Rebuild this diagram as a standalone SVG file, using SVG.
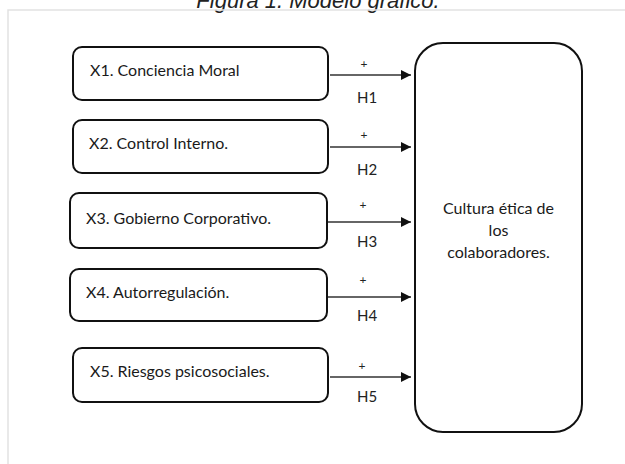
<svg xmlns="http://www.w3.org/2000/svg" width="625" height="464" viewBox="0 0 625 464">
<defs>
<style>
.box{fill:#fff;stroke:#111;stroke-width:2}
.lbl{font-family:Lato,"Open Sans","Liberation Sans",sans-serif;font-size:16px;fill:#1a1a1a}
.big{font-family:Lato,"Open Sans","Liberation Sans",sans-serif;font-size:16px;fill:#1a1a1a;text-anchor:middle}
.plus{font-family:Lato,"Liberation Sans",sans-serif;font-size:12px;fill:#222;text-anchor:middle}
.h{font-family:Lato,"Liberation Sans",sans-serif;font-size:15px;fill:#222}
.conn{stroke:#333;stroke-width:1.5;fill:none;marker-end:url(#arr)}
</style>
<marker id="arr" viewBox="0 0 10 10" refX="10" refY="5" markerWidth="11" markerHeight="10" markerUnits="userSpaceOnUse" orient="auto">
<path d="M0,0 L10,5 L0,10 z" fill="#111"/>
</marker>
</defs>
<rect width="625" height="464" fill="#fff"/>
<text x="318" y="8" font-family="'Liberation Sans',Arial,sans-serif" font-style="italic" font-size="22" fill="#222" text-anchor="middle">Figura 1. Modelo gráfico.</text>
<rect x="8" y="10" width="640" height="470" fill="none" stroke="#e2e2e2" stroke-width="1.5"/>
<g id="connectors">
<line class="conn" x1="330" y1="75" x2="411" y2="75"/>
<line class="conn" x1="330" y1="147" x2="411" y2="147"/>
<line class="conn" x1="328" y1="222" x2="411" y2="222"/>
<line class="conn" x1="328" y1="297" x2="411" y2="297"/>
<line class="conn" x1="330" y1="377" x2="411" y2="377"/>
<text class="plus" x="364" y="68">+</text>
<text class="h" x="357" y="103">H1</text>
<text class="plus" x="364" y="139">+</text>
<text class="h" x="357" y="175">H2</text>
<text class="plus" x="363" y="209">+</text>
<text class="h" x="357" y="247">H3</text>
<text class="plus" x="363" y="284">+</text>
<text class="h" x="357" y="321">H4</text>
<text class="plus" x="362" y="370">+</text>
<text class="h" x="357" y="402">H5</text>
</g>
<g id="x1"><rect class="box" x="73" y="47" width="255" height="53" rx="9"/><text class="lbl" x="90" y="76">X1. Conciencia Moral</text></g>
<g id="x2"><rect class="box" x="73" y="120" width="255" height="53" rx="9"/><text class="lbl" x="89" y="149">X2. Control Interno.</text></g>
<g id="x3"><rect class="box" x="70" y="193" width="257" height="55" rx="9"/><text class="lbl" x="86" y="224">X3. Gobierno Corporativo.</text></g>
<g id="x4"><rect class="box" x="70" y="269" width="257" height="52" rx="9"/><text class="lbl" x="86" y="298">X4. Autorregulación.</text></g>
<g id="x5"><rect class="box" x="73" y="348" width="255" height="54" rx="9"/><text class="lbl" x="90" y="377">X5. Riesgos psicosociales.</text></g>
<g id="y"><rect class="box" x="415" y="43" width="167" height="389" rx="28"/>
<text class="big" x="498.5" y="214">Cultura ética de</text>
<text class="big" x="498.5" y="236">los</text>
<text class="big" x="498.5" y="258">colaboradores.</text></g>
</svg>
